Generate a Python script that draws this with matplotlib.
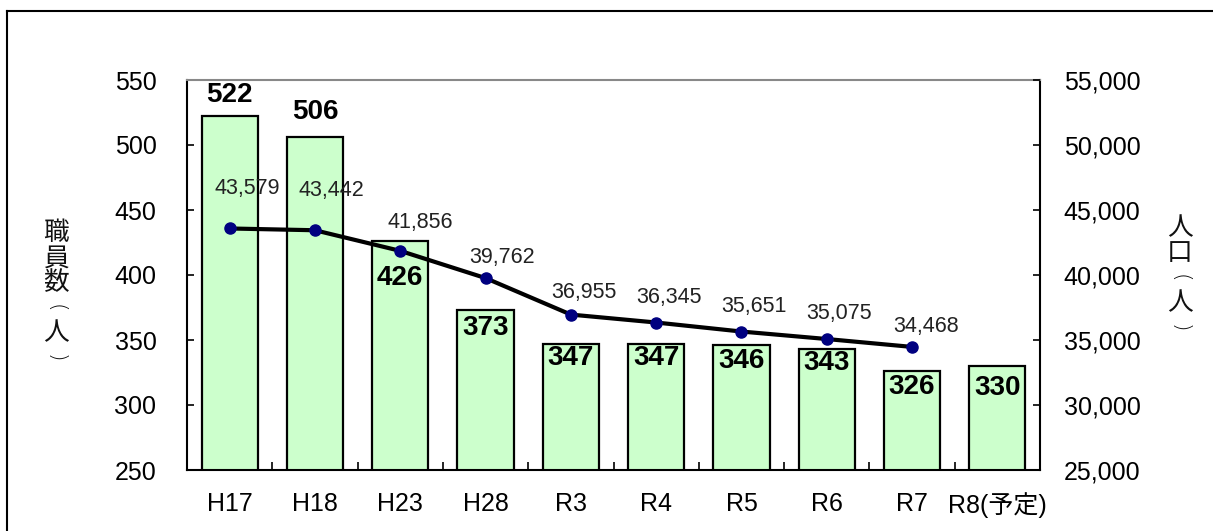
import matplotlib
matplotlib.use('Agg')
import matplotlib.pyplot as plt
from matplotlib.ticker import FuncFormatter, FixedLocator
from matplotlib.lines import Line2D

# ---- data ----
categories = ['H17', 'H18', 'H23', 'H28', 'R3', 'R4', 'R5', 'R6', 'R7', 'R8(予定)']
staff = [522, 506, 426, 373, 347, 347, 346, 343, 326, 330]
population = [43579, 43442, 41856, 39762, 36955, 36345, 35651, 35075, 34468]
left_ticks = [250, 300, 350, 400, 450, 500, 550]
right_ticks = [25000, 30000, 35000, 40000, 45000, 50000, 55000]
left_label = ['職', '員', '数', '(', '人', ')']
right_label = ['人', '口', '(', '人', ')']

# ---- label placement (pixels) ----
staff_label_dy = [21, 25, -37, -18, -14, -14, -16, -14, -16, -22]
pop_label_dx = [18, 16, 20, 16, 13, 13, 12, 12, 14]
pop_label_dy = [40, 40, 28, 21, 22, 25, 25, 26, 20]

W, H = 1213, 531
fig = plt.figure(figsize=(W / 100, H / 100), dpi=100)
ax = fig.add_axes([187 / W, 1 - 470 / H, (1040 - 187) / W, (470 - 80) / H])

SANS = ['Liberation Sans', 'Noto Sans CJK JP']
CJK = ['Noto Sans CJK JP', 'DejaVu Sans']

x = list(range(len(categories)))
ax.bar(x, staff, width=0.66, bottom=0, color='#CCFFCC', edgecolor='black',
       linewidth=1.6, zorder=2)
ax.set_xlim(-0.5, len(categories) - 0.5)
ax.set_ylim(left_ticks[0], left_ticks[-1])
ax.set_yticks(left_ticks)
ax.set_xticks(x)
ax.set_xticklabels(categories, family=SANS, fontsize=18)
ax.xaxis.set_minor_locator(FixedLocator([i + 0.5 for i in range(len(categories) - 1)]))
ax.tick_params(axis='x', which='major', length=0, pad=16)
ax.tick_params(axis='x', which='minor', direction='in', length=6, width=1.2, color='black')
ax.tick_params(axis='y', direction='in', length=5, width=1.2, pad=22, labelsize=18)
for lab in ax.get_yticklabels():
    lab.set_family(SANS)

for s in ['left', 'bottom', 'right']:
    ax.spines[s].set_linewidth(1.5)
    ax.spines[s].set_color('black')
ax.spines['top'].set_color('#888888')
ax.spines['top'].set_linewidth(1.5)

for i, v in enumerate(staff):
    ax.annotate(str(v), (i, v), xytext=(0, staff_label_dy[i]), textcoords='offset pixels',
                ha='center', va='center', family=SANS, fontweight='bold', fontsize=20,
                zorder=5)

ax2 = ax.twinx()
ax2.set_ylim(right_ticks[0], right_ticks[-1])
ax2.set_yticks(right_ticks)
ax2.yaxis.set_major_formatter(FuncFormatter(lambda v, p: f'{int(v):,}'))
ax2.tick_params(axis='y', direction='in', length=5, width=1.2, pad=17, labelsize=18)
for lab in ax2.get_yticklabels():
    lab.set_family(SANS)
for s in ax2.spines.values():
    s.set_visible(False)

px = list(range(len(population)))
ax2.plot(px, population, color='black', linewidth=3, marker='o', markersize=8,
         markerfacecolor='#000080', markeredgecolor='#000080', zorder=4)
for i, v in enumerate(population):
    ax2.annotate(f'{v:,}', (i, v), xytext=(pop_label_dx[i], pop_label_dy[i]),
                 textcoords='offset pixels', ha='center', va='center',
                 family=SANS, fontsize=15.5, color='#222222', zorder=6)


def vertical_label(chars, xc, ytop, pitch=25):
    for k, ch in enumerate(chars):
        yc = 1 - (ytop + pitch * k + pitch / 2) / H
        if ch in '()':
            fig.text(xc / W, yc, ch, family=['DejaVu Sans'], fontsize=16,
                     fontweight='light', ha='center', va='center', rotation=-90,
                     color='#111111')
        else:
            fig.text(xc / W, yc, ch, family=CJK, fontsize=18.5, ha='center',
                     va='center', color='#111111')


vertical_label(left_label, 56, 221)
vertical_label(right_label, 1180, 216)

# outer frame
fig.add_artist(Line2D([7 / W, 7 / W], [0, 1 - 11 / H], transform=fig.transFigure,
                      color='black', linewidth=1.5))
fig.add_artist(Line2D([7 / W, 1], [1 - 11 / H, 1 - 11 / H], transform=fig.transFigure,
                      color='black', linewidth=1.5))

fig.savefig('out.png', dpi=100)
